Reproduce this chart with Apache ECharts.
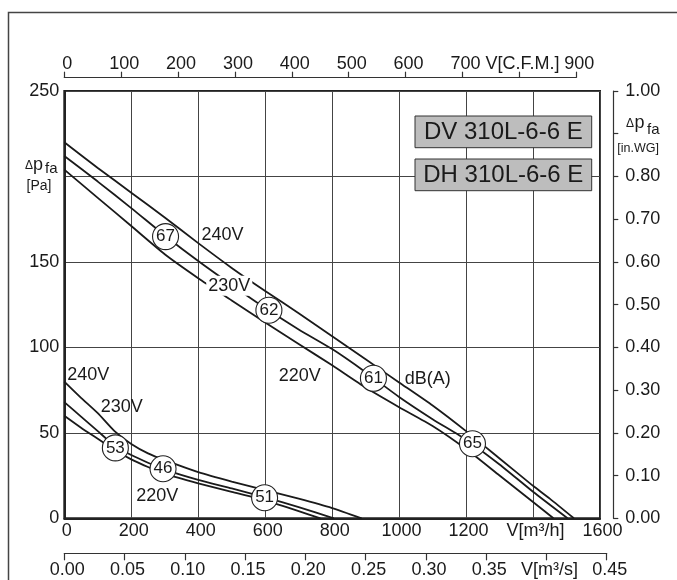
<!DOCTYPE html>
<html><head><meta charset="utf-8">
<script src="https://cdn.jsdelivr.net/npm/echarts@6/dist/echarts.min.js"></script>
<style>html,body{margin:0;padding:0;background:#fff}#c{width:677px;height:580px}</style>
</head><body><div id="c"></div>
<script>
// ---- data (flow in m³/h, pressure in Pa) ----
const hi240X = [0,100,200,300,400,500,600,700,800,900,1000,1100,1200,1300,1400,1450,1522];
const hi240Y = [220,205,190.5,176,161,146.5,133,120,106.5,93,79.5,66,51,35,19,11.5,0];
const hi230X = [0,100,200,300,400,500,600,700,800,900,1000,1100,1200,1300,1400,1503];
const hi230Y = [212,197,181.5,165.5,150.5,136.5,123,110.5,99,85.5,71,58,46,31.5,15.5,0];
const hi220X = [0,100,200,300,400,500,600,700,800,900,1000,1100,1200,1300,1400,1461];
const hi220Y = [204,187.5,171,154.5,140.5,127.5,114.5,102,89.5,76.5,65,54,40.5,25,9.5,0];

const lo240X = [0,50,100,150,200,250,300,400,500,600,700,800,888];
const lo240Y = [80,70.5,61.5,51,43.5,38,34,27,21.5,16.5,11.5,6,0];
const lo230X = [0,50,100,150,200,250,300,400,500,600,700,805];
const lo230Y = [68,59.5,51,42.5,37,32.5,28.5,22.5,17.5,12.3,6.5,0];
const lo220X = [0,50,100,150,200,250,300,400,500,600,700,765];
const lo220Y = [60,53,46.5,40,34.5,30,26,20.5,15.5,10.5,4.2,0];

const dbX = [302.4,611.1,923.3,1219.1,152.5,294.9,598.2];
const dbY = [164.8,121.7,81.9,43.6,41.2,29.0,12.0];
const dbText = ['67','62','61','65','53','46','51'];

const curveLabelX = [472.7,492.7,703.3,1085.2,71.7,171.5,277.5];
const curveLabelY = [165.5,136.0,83.5,81.6,83.8,64.9,12.9];
const curveLabelText = ['240V','230V','220V','dB(A)','240V','230V','220V'];

const modelNames = ['DV 310L-6-6 E','DH 310L-6-6 E'];

const flowMax = 1600, flowStep = 200;
const paMax = 250, paStep = 50;
const cfmMax = 900, cfmStep = 100;
const m3sMax = 0.45, m3sStep = 0.05;
const inwgMax = 1.0, inwgStep = 0.1;

// ---- chart ----
const FF = '"Liberation Sans", Arial, Helvetica, sans-serif';
const TXT = '#1a1a1a';
const L = 64.3, T = 91, W = 535.7, H = 427.3;
const pxPerM3h = W / flowMax;

function pairs(xs, ys){ return xs.map((x,i)=>[x, ys[i]]); }
const lineBase = {type:'line', xAxisIndex:0, yAxisIndex:0, showSymbol:false, symbol:'none', smooth:0.2,
  lineStyle:{color:'#1a1a1a', width:1.8}, z:3, silent:true};

const labelCommon = {fontSize:18, color:TXT, fontFamily:FF};

const option = {
  animation:false,
  backgroundColor:'#fff',
  grid:[
    {left:L, top:T, width:W, height:H, show:true, borderColor:'#222', borderWidth:2, backgroundColor:'transparent', outerBoundsMode:'none'},
    {left:L, top:77.7, width:cfmMax*1.699*pxPerM3h, height:1, outerBoundsMode:'none'},
    {left:L, top:552.3, width:m3sMax*3600*pxPerM3h, height:1, outerBoundsMode:'none'}
  ],
  xAxis:[
    {gridIndex:0, type:'value', min:0, max:flowMax, interval:flowStep, position:'bottom',
      axisLine:{show:true, onZero:false, lineStyle:{color:'#222', width:2}}, axisTick:{show:false},
      splitLine:{show:true, lineStyle:{color:'#444', width:1}},
      axisLabel:Object.assign({margin:4, padding:[0,0,0,5], formatter:v=> v===1400?'V[m³/h]':String(v)}, labelCommon)},
    {gridIndex:1, type:'value', min:0, max:cfmMax, interval:cfmStep, position:'top',
      axisLine:{show:true, onZero:false, lineStyle:{color:'#333', width:1.2}},
      axisTick:{show:true, length:6, lineStyle:{color:'#333', width:1.2}},
      splitLine:{show:false},
      axisLabel:Object.assign({margin:5, padding:[0,0,0,6], formatter:v=> v===800?'V[C.F.M.]':String(v)}, labelCommon)},
    {gridIndex:2, type:'value', min:0, max:m3sMax, interval:m3sStep, position:'bottom',
      axisLine:{show:true, onZero:false, lineStyle:{color:'#333', width:1.2}},
      axisTick:{show:true, length:7, lineStyle:{color:'#333', width:1.2}},
      splitLine:{show:false},
      axisLabel:Object.assign({margin:8, padding:[0,0,0,6], formatter:v=> Math.abs(v-0.4)<1e-9?'V[m³/s]':v.toFixed(2)}, labelCommon)}
  ],
  yAxis:[
    {gridIndex:0, type:'value', min:0, max:paMax, interval:paStep, position:'left',
      axisLine:{show:true, onZero:false, lineStyle:{color:'#222', width:2}}, axisTick:{show:false},
      splitLine:{show:true, lineStyle:{color:'#444', width:1}},
      axisLabel:Object.assign({margin:5, formatter:v=> v===200?'':String(v)}, labelCommon)},
    {gridIndex:0, type:'value', min:0, max:inwgMax, interval:inwgStep, position:'right', offset:13.3,
      axisLine:{show:true, onZero:false, lineStyle:{color:'#333', width:1.2}},
      axisTick:{show:true, length:5, lineStyle:{color:'#333', width:1.2}},
      splitLine:{show:false},
      axisLabel:Object.assign({margin:12, formatter:v=> Math.abs(v-0.9)<1e-9?'':v.toFixed(2)}, labelCommon)},
    {gridIndex:1, type:'value', show:false},
    {gridIndex:2, type:'value', show:false}
  ],
  series:[
    Object.assign({name:'hi240', data:pairs(hi240X,hi240Y)}, lineBase),
    Object.assign({name:'hi230', data:pairs(hi230X,hi230Y)}, lineBase),
    Object.assign({name:'hi220', data:pairs(hi220X,hi220Y)}, lineBase),
    Object.assign({name:'lo240', data:pairs(lo240X,lo240Y)}, lineBase),
    Object.assign({name:'lo230', data:pairs(lo230X,lo230Y)}, lineBase),
    Object.assign({name:'lo220', data:pairs(lo220X,lo220Y)}, lineBase),
    {type:'scatter', xAxisIndex:0, yAxisIndex:0, z:6, silent:true, symbol:'circle', symbolSize:26,
      itemStyle:{color:'#fff', borderColor:'#222', borderWidth:1.1, opacity:1},
      label:{show:true, position:'inside', formatter:p=>p.name, fontSize:17, color:TXT, fontFamily:FF, opacity:1},
      data: dbX.map((x,i)=>({value:[x,dbY[i]], name:dbText[i]}))},
    {type:'scatter', xAxisIndex:0, yAxisIndex:0, z:6, silent:true, symbolSize:1,
      itemStyle:{color:'#fff', opacity:1},
      label:{show:true, position:'inside', formatter:p=>p.name, fontSize:18, color:TXT, fontFamily:FF, opacity:1},
      data: curveLabelX.map((x,i)=>{
        const d = {value:[x,curveLabelY[i]], name:curveLabelText[i]};
        if (i===1) d.label = {backgroundColor:'#fff', padding:[1,2]};
        return d;
      })}
  ],
  graphic:[
    {type:'rect', silent:true, z:0, shape:{x:8.5, y:12.5, width:700, height:600}, style:{fill:'none', stroke:'#444', lineWidth:1.5}},
    {type:'rect', silent:true, z:10, shape:{x:415, y:116, width:176.7, height:31.7}, style:{fill:'#bdbdbd', stroke:'#333', lineWidth:1}},
    {type:'text', silent:true, z:11, x:503.3, y:132.2, style:{text:modelNames[0], fontSize:24, fontFamily:FF, fill:TXT, align:'center', verticalAlign:'middle'}},
    {type:'rect', silent:true, z:10, shape:{x:415, y:159, width:176.7, height:31.7}, style:{fill:'#bdbdbd', stroke:'#333', lineWidth:1}},
    {type:'text', silent:true, z:11, x:503.3, y:175.2, style:{text:modelNames[1], fontSize:24, fontFamily:FF, fill:TXT, align:'center', verticalAlign:'middle'}},
    // left unit label
    {type:'text', silent:true, x:25, y:166, style:{text:'Δ', fontSize:12, fontFamily:FF, fill:TXT, align:'left', verticalAlign:'middle'}},
    {type:'text', silent:true, x:33, y:165.5, style:{text:'p', fontSize:18, fontFamily:FF, fill:TXT, align:'left', verticalAlign:'middle'}},
    {type:'text', silent:true, x:45, y:168.5, style:{text:'fa', fontSize:15, fontFamily:FF, fill:TXT, align:'left', verticalAlign:'middle'}},
    {type:'text', silent:true, x:26.5, y:186.3, style:{text:'[Pa]', fontSize:14, fontFamily:FF, fill:TXT, align:'left', verticalAlign:'middle'}},
    // right unit label
    {type:'text', silent:true, x:626, y:124, style:{text:'Δ', fontSize:12, fontFamily:FF, fill:TXT, align:'left', verticalAlign:'middle'}},
    {type:'text', silent:true, x:634.5, y:122.9, style:{text:'p', fontSize:18, fontFamily:FF, fill:TXT, align:'left', verticalAlign:'middle'}},
    {type:'text', silent:true, x:647, y:129.5, style:{text:'fa', fontSize:15, fontFamily:FF, fill:TXT, align:'left', verticalAlign:'middle'}},
    {type:'text', silent:true, x:617.3, y:148.6, style:{text:'[in.WG]', fontSize:12.5, fontFamily:FF, fill:TXT, align:'left', verticalAlign:'middle'}}
  ]
};
const chart = echarts.init(document.getElementById('c'), null, {renderer:'canvas'});
chart.setOption(option);
</script>
</body></html>
